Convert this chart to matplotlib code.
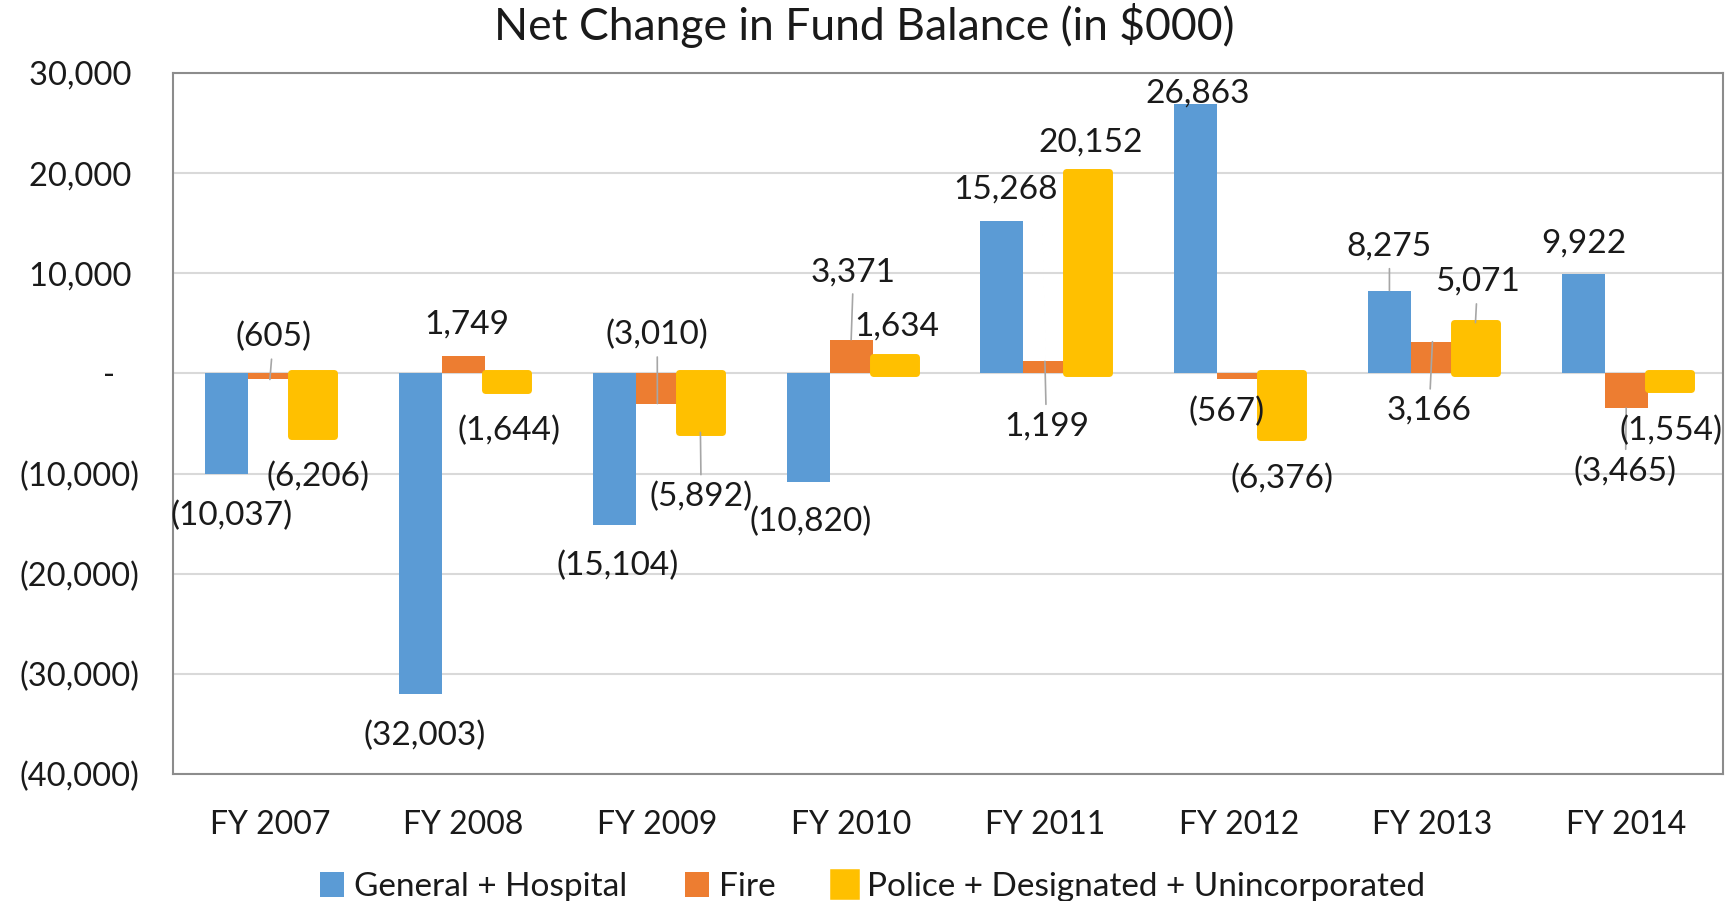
import matplotlib
matplotlib.use("Agg")
import matplotlib.pyplot as plt
from matplotlib.patches import Patch

# ---------------- data ----------------
categories = ["FY 2007", "FY 2008", "FY 2009", "FY 2010",
              "FY 2011", "FY 2012", "FY 2013", "FY 2014"]
series_names = ["General + Hospital", "Fire",
                "Police + Designated + Unincorporated"]
general_hospital = [-10037, -32003, -15104, -10820, 15268, 26863, 8275, 9922]
fire = [-605, 1749, -3010, 3371, 1199, -567, 3166, -3465]
police_designated = [-6206, -1644, -5892, 1634, 20152, -6376, 5071, -1554]

y_ticks = [30000, 20000, 10000, 0, -10000, -20000, -30000, -40000]
y_tick_labels = ["30,000 ", "20,000 ", "10,000 ", "-   ",
                 "(10,000)", "(20,000)", "(30,000)", "(40,000)"]

title = "Net Change in Fund Balance (in $000)"

# ---------------- layout / style ----------------
colors = ["#5B9BD5", "#ED7D31", "#FFC000"]
bar_w = 0.222
offsets = [-bar_w, 0.0, bar_w]

# data-label centres (data coordinates), one list per series
label_pos = [
    [(-0.198, -13861), (0.798, -35863), (1.794, -18922), (2.790, -14521),
     (3.797, 18702), (4.787, 28273), (5.778, 12981), (6.780, 13311)],
    [(0.018, 3960), (1.014, 5170), (1.999, 4180), (3.012, 10451),
     (4.008, -4950), (4.935, -3520), (5.983, -3410), (6.996, -9461)],
    [(0.246, -10011), (1.236, -5390), (2.226, -11991), (3.234, 5060),
     (4.235, 23432), (5.226, -10231), (6.233, 9461), (7.229, -5390)],
]
label_shift = -330  # small global vertical nudge of labels
# which labels have a leader line
leaders = [
    [False, False, False, False, False, False, True, False],
    [True, False, True, True, True, False, True, True],
    [False, False, True, False, False, False, True, False],
]

FONT = "Lato"
plt.rcParams["font.family"] = [FONT, "DejaVu Sans"]
FS_LABEL = 24
FS_YTICK = 23.5
FS_XTICK = 23
FS_LEGEND = 24

fig = plt.figure(figsize=(17.3, 9.01), dpi=100)
ax = fig.add_axes([0.1, 0.141, 0.896, 0.778])

series = [general_hospital, fire, police_designated]
x = list(range(len(categories)))

for s, (vals, col, off) in enumerate(zip(series, colors, offsets)):
    xs = [xi + off for xi in x]
    if s == 2:
        ax.bar(xs, vals, width=bar_w, color=col, edgecolor=col,
               linewidth=5, joinstyle="round", zorder=2)
    else:
        ax.bar(xs, vals, width=bar_w, color=col, linewidth=0, zorder=2)

    for i, v in enumerate(vals):
        txt = f"{abs(v):,}"
        if v < 0:
            txt = f"({txt})"
        lx, ly = label_pos[s][i]
        ly += label_shift
        if leaders[s][i]:
            ax.annotate(txt, xy=(xs[i], v), xytext=(lx, ly),
                        ha="center", va="center", fontsize=FS_LABEL,
                        color="#1a1a1a",
                        arrowprops=dict(arrowstyle="-", color="#A6A6A6", lw=1.2,
                                        shrinkA=3, shrinkB=0),
                        zorder=5)
        else:
            ax.text(lx, ly, txt, ha="center", va="center", fontsize=FS_LABEL,
                    color="#1a1a1a", zorder=5)

ax.set_xlim(-0.5, len(categories) - 0.5)
ax.set_ylim(-40000, 30000)
ax.set_yticks(y_ticks)
ax.set_yticklabels(y_tick_labels)
ax.set_xticks(x)
ax.set_xticklabels(categories)
ax.tick_params(axis="y", length=0, pad=24, labelsize=FS_YTICK,
               labelcolor="#1a1a1a")
ax.tick_params(axis="x", length=0, pad=26, labelsize=FS_XTICK,
               labelcolor="#1a1a1a")

ax.grid(axis="y", color="#D9D9D9", linewidth=1.5, zorder=0)
ax.set_axisbelow(True)
for side in ["left", "right", "top", "bottom"]:
    ax.spines[side].set_color("#8C8C8C")
    ax.spines[side].set_linewidth(1.5)

fig.text(0.4994, 1 - 26 / 901, title, ha="center", va="center",
         fontsize=32, color="#1a1a1a")

handles = [Patch(facecolor=colors[0], edgecolor=colors[0], linewidth=0),
           Patch(facecolor=colors[1], edgecolor=colors[1], linewidth=0),
           Patch(facecolor=colors[2], edgecolor=colors[2], linewidth=4,
                 joinstyle="round")]
fig.legend(handles, series_names, loc="center", bbox_to_anchor=(0.5045, 0.016),
           ncol=3, frameon=False, fontsize=FS_LEGEND, handlelength=0.72,
           handleheight=0.78, handletextpad=0.3, columnspacing=1.72,
           labelcolor="#1a1a1a")

fig.savefig("out.png", dpi=100)
